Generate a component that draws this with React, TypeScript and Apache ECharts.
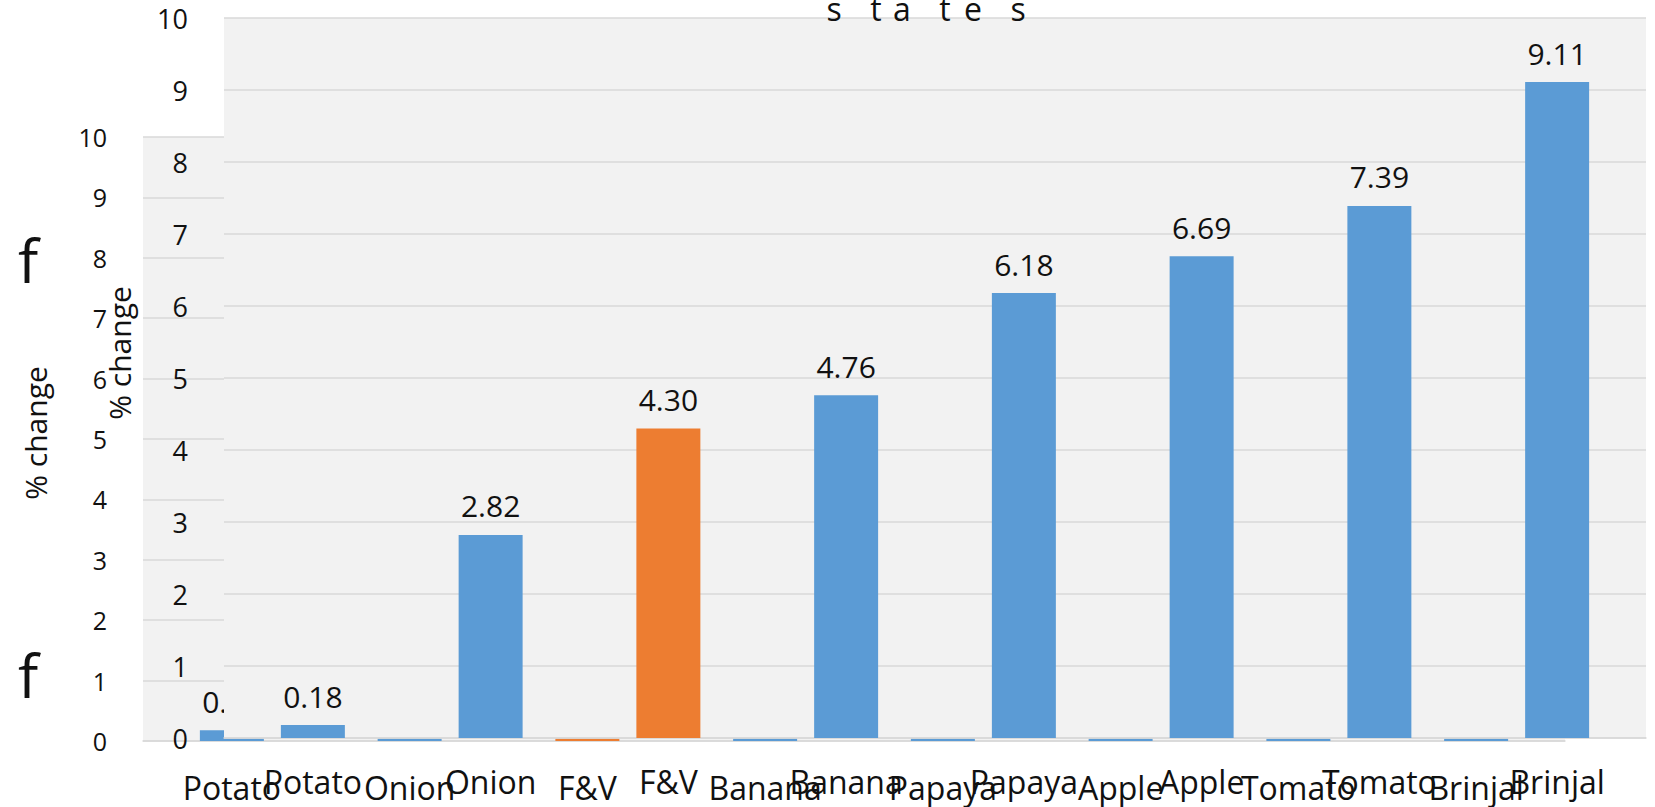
import React, { useEffect, useRef } from 'react';
import * as echarts from 'echarts';

const categories = ['Potato', 'Onion', 'F&V', 'Banana', 'Papaya', 'Apple', 'Tomato', 'Brinjal'];
const changeValues = [0.18, 2.82, 4.30, 4.76, 6.18, 6.69, 7.39, 9.11];
const highlightCategory = 'F&V';
const axisTitle = '% change';
const titleLetters = ['s', 't', 'a', 't', 'e', 's'];
const fragmentLetter = 'f';

const BLUE = '#5B9BD5';
const ORANGE = '#ED7D31';
const PLOT_BG = '#F2F2F2';
const GRID_LINE = '#D9D9D9';
const TEXT = '#111111';
const FONT = '"Open Sans", "Noto Sans", sans-serif';

function barData() {
  return changeValues.map((v, i) => ({
    value: v,
    itemStyle: { color: categories[i] === highlightCategory ? ORANGE : BLUE },
  }));
}

function makeAxes(gi: number, z: number, tickFont: number, labelMargin: number) {
  const xAxis = {
    type: 'category',
    gridIndex: gi,
    data: categories,
    z,
    axisLine: { show: true, lineStyle: { color: GRID_LINE, width: 1.5 } },
    axisTick: { show: false },
    axisLabel: { interval: 0, fontSize: 32, color: TEXT, fontFamily: FONT, margin: labelMargin },
  };
  const yAxis = {
    type: 'value',
    gridIndex: gi,
    min: 0,
    max: 10,
    interval: 1,
    z,
    axisLine: { show: false },
    axisTick: { show: false },
    splitLine: { show: true, lineStyle: { color: GRID_LINE, width: 1.5 } },
    axisLabel: { fontSize: tickFont, color: TEXT, fontFamily: FONT, margin: 36 },
  };
  return { xAxis, yAxis };
}

function makeSeries(gi: number, z: number) {
  return {
    type: 'bar',
    xAxisIndex: gi,
    yAxisIndex: gi,
    data: barData(),
    barWidth: '36%',
    z,
    label: {
      show: true,
      position: 'top',
      distance: 14,
      fontSize: 30,
      color: TEXT,
      fontFamily: FONT,
      formatter: (p: any) => Number(p.value).toFixed(2),
    },
  };
}

export default function App() {
  const ref = useRef<HTMLDivElement>(null);

  useEffect(() => {
    if (!ref.current) return;
    const chart = echarts.init(ref.current, null, { renderer: 'svg' });
    const back = makeAxes(0, 1, 25, 30);
    const front = makeAxes(1, 11, 27, 27);
    const letterX = [834, 876, 902, 945, 973, 1018];
    const option: any = {
      animation: false,
      backgroundColor: '#ffffff',
      grid: [
        { left: 143, top: 137, width: 1422, height: 604, show: true, backgroundColor: PLOT_BG, borderWidth: 0, z: 0 },
        { left: 224, top: 18, width: 1422, height: 720, show: true, backgroundColor: PLOT_BG, borderWidth: 0, z: 10 },
      ],
      xAxis: [back.xAxis, front.xAxis],
      yAxis: [back.yAxis, front.yAxis],
      series: [makeSeries(0, 2), makeSeries(1, 12)],
      graphic: [
        {
          type: 'text', x: 35, y: 433, rotation: Math.PI / 2, z: 20,
          style: { text: axisTitle, fontSize: 30, fontFamily: FONT, fill: TEXT, align: 'center', verticalAlign: 'middle' },
        },
        {
          type: 'text', x: 119, y: 353, rotation: Math.PI / 2, z: 20,
          style: { text: axisTitle, fontSize: 30, fontFamily: FONT, fill: TEXT, align: 'center', verticalAlign: 'middle' },
        },
        {
          type: 'text', x: 28, y: 290, z: 20,
          style: { text: fragmentLetter, fontSize: 60, fontFamily: FONT, fill: TEXT, align: 'center', verticalAlign: 'bottom' },
        },
        {
          type: 'text', x: 28, y: 705, z: 20,
          style: { text: fragmentLetter, fontSize: 60, fontFamily: FONT, fill: TEXT, align: 'center', verticalAlign: 'bottom' },
        },
        ...titleLetters.map((ch, i) => ({
          type: 'text', x: letterX[i], y: 24, z: 20,
          style: { text: ch, fontSize: 32, fontFamily: FONT, fill: TEXT, align: 'center', verticalAlign: 'bottom' },
        })),
      ],
    };
    chart.setOption(option);
    return () => chart.dispose();
  }, []);

  return (
    <div
      ref={ref}
      style={{ position: 'absolute', left: 0, top: 0, width: 1655, height: 807 }}
    />
  );
}
